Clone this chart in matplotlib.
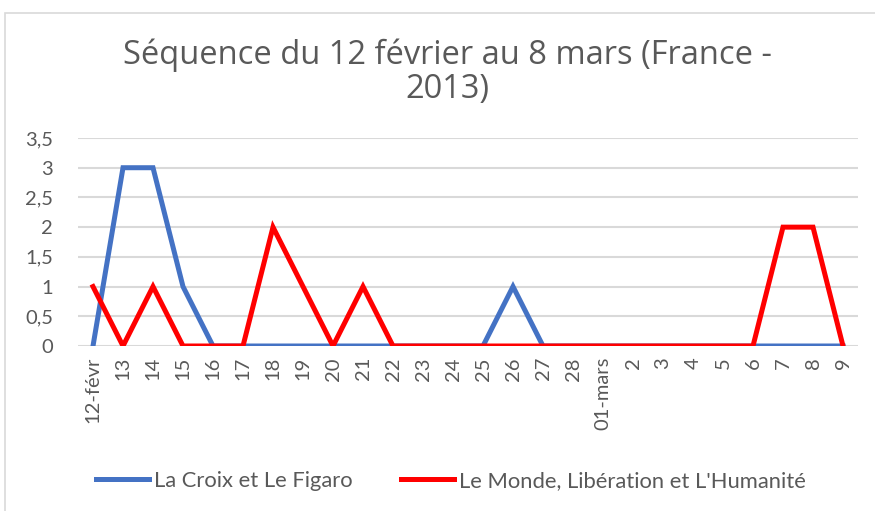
import matplotlib
matplotlib.use("Agg")
import matplotlib.pyplot as plt
from matplotlib.patches import Rectangle

categories = ["12-févr", "13", "14", "15", "16", "17", "18", "19", "20", "21", "22", "23", "24",
              "25", "26", "27", "28", "01-mars", "2", "3", "4", "5", "6", "7", "8", "9"]
croix_figaro = [0, 3, 3, 1, 0, 0, 0, 0, 0, 0, 0, 0, 0, 0, 1, 0, 0, 0, 0, 0, 0, 0, 0, 0, 0, 0]
monde_lib_huma = [1, 0, 1, 0, 0, 0, 2, 1, 0, 1, 0, 0, 0, 0, 0, 0, 0, 0, 0, 0, 0, 0, 0, 2, 2, 0]
yticks = [0, 0.5, 1, 1.5, 2, 2.5, 3, 3.5]
ytick_labels = ["0", "0,5", "1", "1,5", "2", "2,5", "3", "3,5"]
title = "Séquence du 12 février au 8 mars (France -\n2013)"
series_names = ["La Croix et Le Figaro", "Le Monde, Libération et L'Humanité"]

plt.rcParams['font.family'] = ['Lato', 'DejaVu Sans']
W, H = 875, 511
fig = plt.figure(figsize=(W / 100, H / 100), dpi=100)

# chart frame
fig.patches.append(Rectangle((5 / W, -0.1), 1.2, (H - 13) / H + 0.1, transform=fig.transFigure,
                             fill=False, edgecolor="#d9d9d9", linewidth=1.2))

ax = fig.add_axes([78 / W, 1 - 346 / H, (858 - 78) / W, (346 - 138) / H])
x = list(range(len(categories)))
ax.plot(x, croix_figaro, color="#4472C4", linewidth=3.6, solid_joinstyle="miter", label=series_names[0], zorder=3)
ax.plot(x, monde_lib_huma, color="#FF0000", linewidth=3.6, solid_joinstyle="miter", label=series_names[1], zorder=4)

ax.set_xlim(-0.5, len(categories) - 0.5)
ax.set_ylim(0, 3.5)
ax.set_yticks(yticks)
ax.set_yticklabels(ytick_labels, fontsize=14.5, color="#595959")
ax.set_xticks(x)
ax.set_xticklabels(categories, rotation=90, fontsize=14.5, color="#595959")
ax.tick_params(axis='y', length=0, pad=18)
ax.tick_params(axis='x', length=0, pad=8)
ax.grid(axis='y', color="#d9d9d9", linewidth=1.5, zorder=0)
ax.set_axisbelow(True)
for s in ax.spines.values():
    s.set_visible(False)

fig.text(447 / W, 1 - 72 / H, title, ha="center", va="center", fontsize=23.5, color="#595959",
         linespacing=1.05, family=['Open Sans', 'DejaVu Sans'])

leg = fig.legend(loc="center", bbox_to_anchor=(451 / W, 1 - 481 / H), ncol=2, frameon=False,
                 fontsize=15.8, handlelength=2.4, handletextpad=0.25, columnspacing=2.2)
for t in leg.get_texts():
    t.set_color("#595959")

fig.savefig("out.png", dpi=100)
